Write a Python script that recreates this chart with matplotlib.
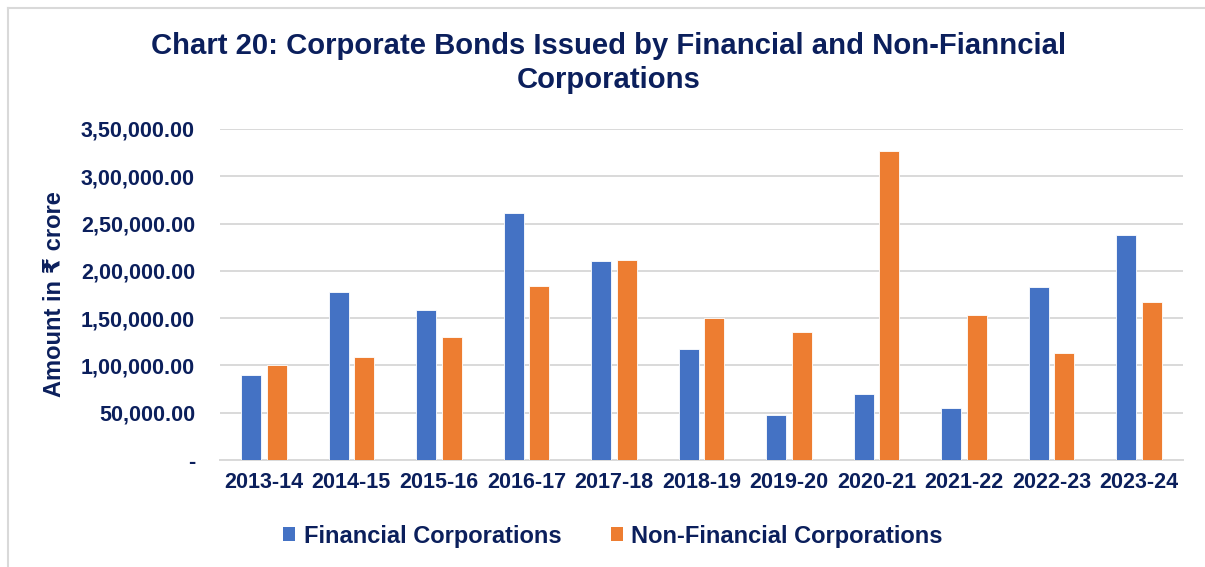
import matplotlib
matplotlib.use("Agg")
import matplotlib.pyplot as plt
import numpy as np
from matplotlib.lines import Line2D
from matplotlib.patches import Patch
from matplotlib.ticker import FuncFormatter, MultipleLocator

plt.rcParams["font.family"] = ["Liberation Sans", "DejaVu Sans"]
plt.rcParams["font.weight"] = "bold"

years = ["2013-14", "2014-15", "2015-16", "2016-17", "2017-18", "2018-19",
         "2019-20", "2020-21", "2021-22", "2022-23", "2023-24"]
financial = [89900, 177600, 158600, 261100, 210400, 117400,
             47600, 69800, 55300, 182900, 237800]
non_financial = [100100, 109200, 130300, 183900, 211400, 150400,
                 135000, 326600, 153300, 112800, 167000]

NAVY = "#0B1F5C"
BLUE = "#4472C4"
ORANGE = "#ED7D31"
GRID = "#D9D9D9"


def indian_format(value, _pos=None):
    """Format with Indian digit grouping and two decimals; zero as a dash."""
    if abs(value) < 1e-9:
        return "-"
    whole = f"{int(round(value))}"
    if len(whole) > 3:
        head, tail = whole[:-3], whole[-3:]
        groups = []
        while len(head) > 2:
            groups.insert(0, head[-2:])
            head = head[:-2]
        if head:
            groups.insert(0, head)
        whole = ",".join(groups) + "," + tail
    return whole + ".00"


fig = plt.figure(figsize=(12.05, 5.67), dpi=100)
ax = fig.add_axes([220 / 1205, 1 - 460 / 567, 963 / 1205, 331 / 567])

x = np.arange(len(years))
width = 0.229
offset = 0.146
ax.bar(x - offset, financial, width, color=BLUE, edgecolor="white", linewidth=0.6, zorder=3)
ax.bar(x + offset, non_financial, width, color=ORANGE, edgecolor="white", linewidth=0.6, zorder=3)

ax.set_xlim(-0.5, len(years) - 0.5)
ax.set_ylim(0, 350000)
ax.yaxis.set_major_locator(MultipleLocator(50000))
ax.yaxis.set_major_formatter(FuncFormatter(indian_format))
ax.set_xticks(x)
ax.set_xticklabels(years)

ax.grid(axis="y", color=GRID, linewidth=1.4, zorder=0)
for side in ["top", "right", "left"]:
    ax.spines[side].set_visible(False)
ax.spines["bottom"].set_color(GRID)
ax.spines["bottom"].set_linewidth(1.4)
ax.tick_params(axis="both", length=0, labelcolor=NAVY, labelsize=15.5)
ax.tick_params(axis="y", pad=18)
ax.tick_params(axis="x", pad=9)

fig.text(55 / 1205, 1 - 294 / 567, "Amount in ₹ crore", rotation=90,
         ha="center", va="center", fontsize=17, color=NAVY, fontweight="bold")

fig.text(609 / 1205, 1 - 63 / 567,
         "Chart 20: Corporate Bonds Issued by Financial and Non-Fianncial\nCorporations",
         ha="center", va="center", fontsize=21.1, color=NAVY, fontweight="bold",
         linespacing=1.3)

handles = [Patch(facecolor=BLUE), Patch(facecolor=ORANGE)]
fig.legend(handles, ["Financial Corporations", "Non-Financial Corporations"],
           loc="center", bbox_to_anchor=(613 / 1205, 1 - 536 / 567), ncol=2,
           frameon=False, fontsize=17, labelcolor=NAVY, handlelength=0.52,
           handleheight=0.52, handletextpad=0.35, columnspacing=2.1)

# outer chart border (left and top edges)
fig.add_artist(Line2D([8 / 1205, 8 / 1205], [0, 1 - 8 / 567], color=GRID, linewidth=1.5))
fig.add_artist(Line2D([8 / 1205, 1], [1 - 8 / 567, 1 - 8 / 567], color=GRID, linewidth=1.5))

fig.savefig("out.png", dpi=100, facecolor="white")
